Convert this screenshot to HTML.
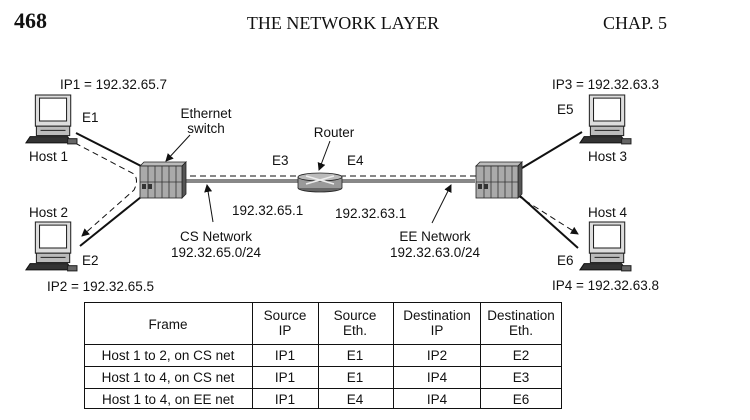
<!DOCTYPE html>
<html><head><meta charset="utf-8"><style>
body{margin:0;background:#fff;}
svg{display:block;}
text{font-family:"Liberation Sans",sans-serif;font-size:13.5px;fill:#111;}
.serif{font-family:"Liberation Serif",serif;}
</style></head><body>
<svg width="750" height="420" viewBox="0 0 750 420" xmlns="http://www.w3.org/2000/svg">
<defs>
<symbol id="pc" viewBox="0 0 50 50" overflow="visible">
  <rect x="9" y="0" width="34" height="30" fill="#ddd" stroke="#222" stroke-width="1"/>
  <rect x="13" y="3" width="26" height="22" fill="#fff" stroke="#222" stroke-width="1"/>
  <rect x="10" y="30" width="32" height="9" fill="#bbb" stroke="#222" stroke-width="1"/>
  <line x1="14" y1="34" x2="38" y2="34" stroke="#222"/>
  <polygon points="0,46 4,40 40,40 44,46" fill="#333" stroke="#111"/>
  <rect x="40" y="42" width="9" height="5" fill="#666" stroke="#222"/>
</symbol>
<symbol id="sw" viewBox="0 0 46 36" overflow="visible">
  <polygon points="0,4 4,0 46,0 42,4" fill="#bbb" stroke="#222" stroke-width="0.8"/>
  <polygon points="42,4 46,0 46,32 42,36" fill="#555" stroke="#222" stroke-width="0.8"/>
  <rect x="0" y="4" width="42" height="32" fill="#aaa" stroke="#222" stroke-width="0.8"/>
  <g stroke="#333" stroke-width="0.8"><line x1="8" y1="4" x2="8" y2="36"/><line x1="15" y1="4" x2="15" y2="36"/><line x1="22" y1="4" x2="22" y2="36"/><line x1="29" y1="4" x2="29" y2="36"/><line x1="36" y1="4" x2="36" y2="36"/><line x1="0" y1="20" x2="42" y2="20"/></g>
  <rect x="2" y="22" width="4" height="5" fill="#333"/><rect x="8" y="22" width="4" height="5" fill="#333"/>
</symbol>
<marker id="ar" markerWidth="8" markerHeight="8" refX="7" refY="4" orient="auto" markerUnits="userSpaceOnUse"><path d="M0,0 L8,4 L0,8 z" fill="#111"/></marker>
</defs>

<text x="14" y="28" class="serif" style="font-size:22px;font-weight:bold">468</text>
<text x="343" y="29" class="serif" text-anchor="middle" style="font-size:18px">THE NETWORK LAYER</text>
<text x="603" y="29" class="serif" style="font-size:18px">CHAP.  5</text>

<g stroke="#111" stroke-width="2" fill="none">
<line x1="76" y1="133" x2="141" y2="166"/>
<line x1="80" y1="246" x2="141" y2="197"/>
<line x1="522" y1="168" x2="582" y2="132"/>
<line x1="520" y1="196" x2="578" y2="248"/>
</g>
<line x1="185" y1="181" x2="475" y2="181" stroke="#111" stroke-width="3"/>
<line x1="185" y1="181" x2="475" y2="181" stroke="#fff" stroke-width="1"/>
<g stroke="#111" stroke-width="1" fill="none" stroke-dasharray="6,4">
<path d="M75,143 L134,174 Q139,180 134,190 L82,236" marker-end="url(#ar)"/>
<line x1="150" y1="176" x2="490" y2="176"/>
<path d="M495,176 Q512,180 518,196 L578,234" marker-end="url(#ar)"/>
</g>

<use href="#sw" x="140" y="162" width="46" height="36"/>
<use href="#sw" x="476" y="162" width="46" height="36"/>
<g>
<ellipse cx="320" cy="188" rx="22" ry="4" fill="#666" stroke="#222" stroke-width="0.8"/>
<rect x="298" y="177" width="44" height="11" fill="#999" stroke="none"/>
<line x1="298" y1="177" x2="298" y2="188" stroke="#222" stroke-width="0.8"/>
<line x1="342" y1="177" x2="342" y2="188" stroke="#222" stroke-width="0.8"/>
<ellipse cx="320" cy="177" rx="22" ry="4" fill="#bbb" stroke="#222" stroke-width="0.8"/>
<path d="M306,176 L334,184 M306,184 L334,176" stroke="#eee" stroke-width="1.5"/>
</g>

<use href="#pc" x="26" y="95" width="52" height="52"/>
<use href="#pc" x="26" y="222" width="52" height="52"/>
<use href="#pc" x="580" y="95" width="52" height="52"/>
<use href="#pc" x="580" y="222" width="52" height="52"/>

<g stroke="#111" stroke-width="1">
<line x1="190" y1="135" x2="166" y2="161" marker-end="url(#ar)"/>
<line x1="330" y1="141" x2="319" y2="170" marker-end="url(#ar)"/>
<line x1="213" y1="222" x2="207" y2="185" marker-end="url(#ar)"/>
<line x1="432" y1="223" x2="451" y2="185" marker-end="url(#ar)"/>
</g>

<text x="60" y="89">IP1 = 192.32.65.7</text>
<text x="82" y="122">E1</text>
<text x="29" y="161">Host 1</text>
<text x="29" y="217">Host 2</text>
<text x="82" y="265">E2</text>
<text x="47" y="291">IP2 = 192.32.65.5</text>
<text x="206" y="118" text-anchor="middle">Ethernet</text>
<text x="206" y="133" text-anchor="middle">switch</text>
<text x="334" y="137" text-anchor="middle">Router</text>
<text x="272" y="165">E3</text>
<text x="347" y="165">E4</text>
<text x="232" y="215">192.32.65.1</text>
<text x="335" y="218">192.32.63.1</text>
<text x="216" y="241" text-anchor="middle">CS Network</text>
<text x="216" y="257" text-anchor="middle">192.32.65.0/24</text>
<text x="435" y="241" text-anchor="middle">EE Network</text>
<text x="435" y="257" text-anchor="middle">192.32.63.0/24</text>
<text x="552" y="89">IP3 = 192.32.63.3</text>
<text x="557" y="114">E5</text>
<text x="588" y="161">Host 3</text>
<text x="588" y="217">Host 4</text>
<text x="557" y="265">E6</text>
<text x="552" y="290">IP4 = 192.32.63.8</text>

<g stroke="#111" stroke-width="1" fill="none">
<rect x="84.5" y="302.5" width="477" height="106"/>
<line x1="84" y1="344.5" x2="562" y2="344.5"/>
<line x1="84" y1="366.5" x2="562" y2="366.5"/>
<line x1="84" y1="388.5" x2="562" y2="388.5"/>
<line x1="252.5" y1="302" x2="252.5" y2="409"/>
<line x1="318.5" y1="302" x2="318.5" y2="409"/>
<line x1="393.5" y1="302" x2="393.5" y2="409"/>
<line x1="480.5" y1="302" x2="480.5" y2="409"/>
</g>
<g text-anchor="middle">
<text x="168" y="329">Frame</text>
<text x="285" y="320">Source</text><text x="285" y="335">IP</text>
<text x="355" y="320">Source</text><text x="355" y="335">Eth.</text>
<text x="437" y="320">Destination</text><text x="437" y="335">IP</text>
<text x="521" y="320">Destination</text><text x="521" y="335">Eth.</text>
<text x="168" y="360">Host 1 to 2, on CS net</text><text x="285" y="360">IP1</text><text x="355" y="360">E1</text><text x="437" y="360">IP2</text><text x="521" y="360">E2</text>
<text x="168" y="382">Host 1 to 4, on CS net</text><text x="285" y="382">IP1</text><text x="355" y="382">E1</text><text x="437" y="382">IP4</text><text x="521" y="382">E3</text>
<text x="168" y="404">Host 1 to 4, on EE net</text><text x="285" y="404">IP1</text><text x="355" y="404">E4</text><text x="437" y="404">IP4</text><text x="521" y="404">E6</text>
</g>
</svg>
</body></html>
